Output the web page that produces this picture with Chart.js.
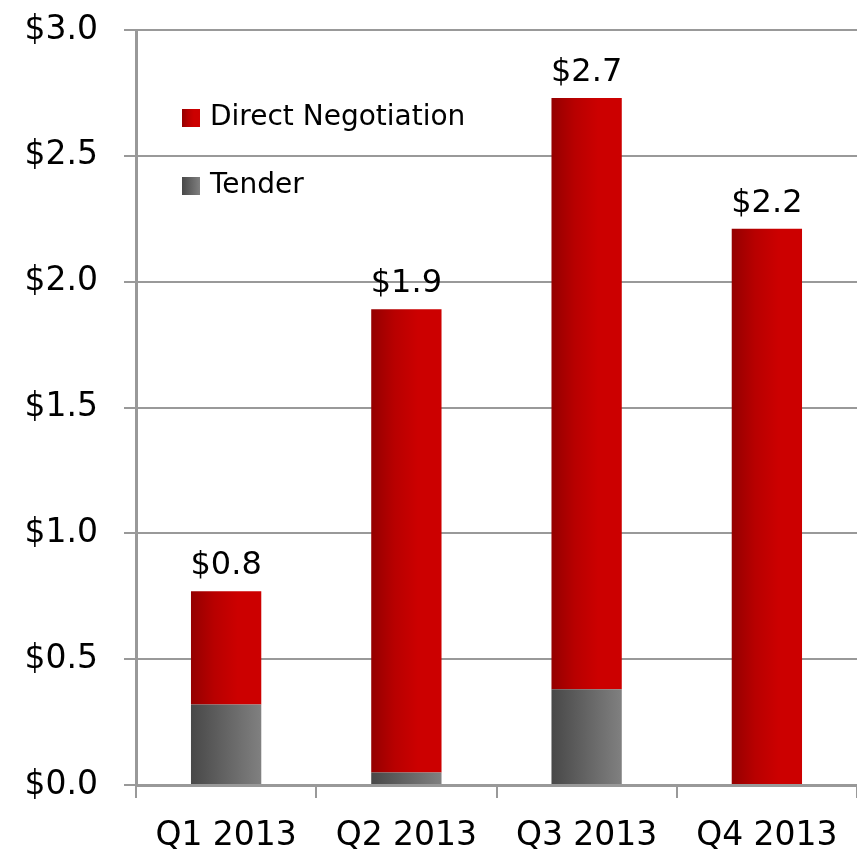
<!DOCTYPE html>
<html>
<head>
<meta charset="utf-8">
<script src="https://cdn.jsdelivr.net/npm/chart.js@4.4.0/dist/chart.umd.min.js"></script>
<style>
  html, body { margin: 0; padding: 0; background: #fff; }
  #wrap { width: 857px; height: 854px; }
</style>
</head>
<body>
<div id="wrap"><canvas id="myChart" width="857" height="854"></canvas></div>
<script>
const quarters = ["Q1 2013", "Q2 2013", "Q3 2013", "Q4 2013"];
const tender = [0.32, 0.05, 0.38, 0.0];
const directNegotiation = [0.45, 1.84, 2.35, 2.21];
const yTicks = [0, 0.5, 1.0, 1.5, 2.0, 2.5, 3.0];

const FONT = "'DejaVu Sans', sans-serif";
const BAR_PCT = 0.39;

function barGradient(chart, index, colors) {
    const area = chart.chartArea;
    if (!area) return colors[colors.length - 1];
    const xs = chart.scales.x;
    const center = xs.getPixelForValue(index);
    const half = (area.right - area.left) / quarters.length * BAR_PCT / 2;
    const g = chart.ctx.createLinearGradient(center - half, 0, center + half, 0);
    colors.forEach((c, i) => g.addColorStop(i / (colors.length - 1), c));
    return g;
}

const redStops = ["#940000", "#b80000", "#cc0000", "#cc0000"];
const grayStops = ["#484848", "#808080"];

// totals above the bars
const totalLabels = {
    id: "totalLabels",
    afterDatasetsDraw(chart) {
        const ctx = chart.ctx;
        const xs = chart.scales.x, ys = chart.scales.y;
        ctx.save();
        ctx.font = "32px " + FONT;
        ctx.fillStyle = "#000";
        ctx.textAlign = "center";
        ctx.textBaseline = "alphabetic";
        quarters.forEach((q, i) => {
            const total = tender[i] + directNegotiation[i];
            ctx.fillText("$" + total.toFixed(1), xs.getPixelForValue(i), ys.getPixelForValue(total) - 17);
        });
        ctx.restore();
    }
};

// legend inside the plot
const innerLegend = {
    id: "innerLegend",
    afterDraw(chart) {
        const ctx = chart.ctx;
        const items = [
            { label: "Direct Negotiation", stops: redStops, y: 118 },
            { label: "Tender", stops: grayStops, y: 186 }
        ];
        ctx.save();
        ctx.font = "28px " + FONT;
        ctx.textBaseline = "middle";
        items.forEach(it => {
            const g = ctx.createLinearGradient(182, 0, 200, 0);
            it.stops.forEach((c, i) => g.addColorStop(i / (it.stops.length - 1), c));
            ctx.fillStyle = g;
            ctx.fillRect(182, it.y - 9, 18, 18);
            ctx.fillStyle = "#000";
            ctx.fillText(it.label, 210, it.y);
        });
        ctx.restore();
    }
};

const config = {
    type: "bar",
    data: {
        labels: quarters,
        datasets: [
            {
                label: "Tender",
                data: tender,
                backgroundColor: c => barGradient(c.chart, c.dataIndex, grayStops),
                barPercentage: BAR_PCT,
                categoryPercentage: 1
            },
            {
                label: "Direct Negotiation",
                data: directNegotiation,
                backgroundColor: c => barGradient(c.chart, c.dataIndex, redStops),
                barPercentage: BAR_PCT,
                categoryPercentage: 1
            }
        ]
    },
    options: {
        responsive: false,
        animation: false,
        layout: { padding: { top: 30, right: 0, left: 0, bottom: 0 } },
        plugins: {
            legend: { display: false },
            tooltip: { enabled: false }
        },
        scales: {
            x: {
                stacked: true,
                offset: true,
                grid: {
                    offset: true,
                    drawOnChartArea: false,
                    color: "#999",
                    lineWidth: 2,
                    tickLength: 13
                },
                border: { color: "#999", width: 3 },
                ticks: {
                    color: "#000",
                    font: { family: FONT, size: 33 },
                    padding: 19
                },
                afterFit(scale) {
                    scale.height = 69;
                    scale.paddingLeft = 0;
                    scale.paddingRight = 0;
                }
            },
            y: {
                stacked: true,
                min: 0,
                max: 3,
                grid: {
                    color: "#999",
                    lineWidth: 2,
                    tickLength: 12
                },
                border: { color: "#999", width: 3 },
                afterBuildTicks(scale) {
                    scale.ticks = yTicks.map(v => ({ value: v }));
                },
                ticks: {
                    color: "#000",
                    font: { family: FONT, size: 33 },
                    padding: 26,
                    callback: v => "$" + Number(v).toFixed(1)
                },
                afterFit(scale) {
                    scale.width = 136;
                    scale.paddingTop = 0;
                    scale.paddingBottom = 0;
                }
            }
        }
    },
    plugins: [totalLabels, innerLegend]
};

new Chart(document.getElementById("myChart"), config);
</script>
</body>
</html>
